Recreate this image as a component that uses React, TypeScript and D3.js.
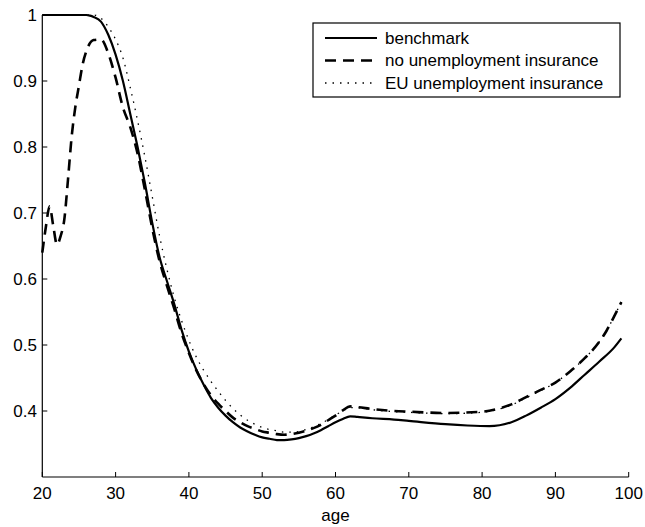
import * as d3 from 'd3';

// benchmark
const benchAge = [20, 22, 24, 26, 26.5, 27, 28, 29, 30, 31, 32, 33, 34, 35, 36, 37, 38, 39, 40, 41, 42, 43, 44, 45, 46, 47, 48, 49, 50, 51, 52, 53, 54, 55, 56, 57, 58, 59, 60, 61, 62, 63, 65, 68, 70, 75, 78, 81, 84, 86, 88, 90, 92, 94, 96, 98, 99];
const benchVal = [1, 1, 1, 1, 0.999, 0.997, 0.99, 0.97, 0.94, 0.9, 0.85, 0.8, 0.745, 0.685, 0.633, 0.597, 0.562, 0.523, 0.49, 0.463, 0.44, 0.42, 0.405, 0.393, 0.383, 0.375, 0.369, 0.364, 0.36, 0.358, 0.356, 0.356, 0.357, 0.359, 0.362, 0.366, 0.371, 0.377, 0.383, 0.388, 0.392, 0.391, 0.389, 0.387, 0.385, 0.38, 0.378, 0.377, 0.383, 0.393, 0.405, 0.418, 0.435, 0.455, 0.475, 0.496, 0.51];

// no unemployment insurance
const noUiAge = [20, 20.5, 21, 21.5, 22, 22.5, 23, 23.5, 24, 24.5, 25, 25.5, 26, 27, 28, 29, 30, 31, 32, 33, 34, 35, 36, 37, 38, 39, 40, 41, 42, 43, 44, 45, 46, 47, 48, 49, 50, 51, 52, 53, 54, 55, 56, 57, 58, 59, 60, 61, 62, 63, 65, 68, 70, 75, 80, 82, 84, 86, 88, 90, 92, 94, 96, 97, 98, 99];
const noUiVal = [0.64, 0.68, 0.71, 0.68, 0.652, 0.665, 0.69, 0.75, 0.815, 0.86, 0.893, 0.925, 0.945, 0.962, 0.963, 0.942, 0.905, 0.86, 0.83, 0.79, 0.735, 0.677, 0.627, 0.59, 0.555, 0.518, 0.488, 0.462, 0.441, 0.424, 0.411, 0.4, 0.39, 0.383, 0.377, 0.373, 0.369, 0.367, 0.365, 0.364, 0.365, 0.367, 0.37, 0.374, 0.379, 0.386, 0.393, 0.401, 0.407, 0.406, 0.403, 0.4, 0.399, 0.397, 0.399, 0.403, 0.41, 0.421, 0.432, 0.443, 0.46, 0.48, 0.505, 0.522, 0.543, 0.565];

// EU unemployment insurance
const euAge = [20, 27, 28, 29, 30, 31, 32, 33, 34, 35, 36, 37, 38, 39, 40, 41, 42, 43, 44, 45, 46, 47, 48, 49, 50, 51, 52, 53, 54, 55, 56, 57, 58, 59, 60, 61, 62, 63, 65, 68, 70, 75, 80, 82, 84, 86, 88, 90, 92, 94, 96, 97, 98, 99];
const euVal = [1, 1, 0.995, 0.982, 0.963, 0.935, 0.89, 0.84, 0.785, 0.725, 0.665, 0.615, 0.572, 0.537, 0.507, 0.482, 0.462, 0.445, 0.43, 0.416, 0.404, 0.394, 0.386, 0.38, 0.375, 0.372, 0.37, 0.368, 0.368, 0.369, 0.372, 0.376, 0.381, 0.387, 0.394, 0.4, 0.405, 0.405, 0.402, 0.399, 0.398, 0.396, 0.398, 0.402, 0.409, 0.42, 0.431, 0.443, 0.46, 0.48, 0.505, 0.522, 0.543, 0.565];

const xTicks = [20, 30, 40, 50, 60, 70, 80, 90, 100];
const yTicks = [0.4, 0.5, 0.6, 0.7, 0.8, 0.9, 1];
const legendLabels = ['benchmark', 'no unemployment insurance', 'EU unemployment insurance'];

const W = 645;
const H = 527;
const font = 'Liberation Sans, Arial, Helvetica, sans-serif';

const App = (): JSX.Element => {
  const x = d3.scaleLinear([20, 100], [42.3, 628.7]);
  const y = d3.scaleLinear([0.3, 1], [477, 15]);

  const pts = (ages: number[], vals: number[]): [number, number][] => ages.map((a, i) => [a, vals[i]]);
  const line = d3
    .line<[number, number]>()
    .x((d) => x(d[0]))
    .y((d) => y(d[1]))
    .curve(d3.curveMonotoneX);

  const series = [
    { d: line(pts(benchAge, benchVal)), width: 2.2, dash: 'none' },
    { d: line(pts(noUiAge, noUiVal)), width: 2.6, dash: '11,7' },
    { d: line(pts(euAge, euVal)), width: 1.3, dash: '1.5,6' }
  ];

  const x0 = x.range()[0];
  const y0 = y.range()[0];

  return (
    <svg width={W} height={H} style={{ position: 'absolute', left: 0, top: 0, background: '#fff' }}>
      {series.map((s, i) => (
        <path key={i} d={s.d ?? ''} fill="none" stroke="#000" strokeWidth={s.width} strokeDasharray={s.dash} strokeLinejoin="round" />
      ))}

      {/* axes */}
      <line x1={x0} x2={x.range()[1]} y1={y0} y2={y0} stroke="#000" strokeWidth={1.2} />
      <line x1={x0} x2={x0} y1={y0} y2={y(1)} stroke="#000" strokeWidth={1.2} />
      {xTicks.map((t) => (
        <g key={t}>
          <line x1={x(t)} x2={x(t)} y1={y0} y2={y0 - 5} stroke="#000" />
          <text x={x(t)} y={499} textAnchor="middle" fontFamily={font} fontSize={17}>
            {t}
          </text>
        </g>
      ))}
      {yTicks.map((t) => (
        <g key={t}>
          <line x1={x0} x2={x0 + 5} y1={y(t)} y2={y(t)} stroke="#000" />
          <text x={37} y={y(t)} dy="0.35em" textAnchor="end" fontFamily={font} fontSize={17}>
            {t}
          </text>
        </g>
      ))}
      <text x={(x0 + x.range()[1]) / 2} y={521} textAnchor="middle" fontFamily={font} fontSize={17}>
        age
      </text>

      {/* legend */}
      <rect x={313} y={23} width={307} height={74} fill="#fff" stroke="#000" strokeWidth={1.2} />
      {legendLabels.map((l, i) => (
        <g key={l}>
          <line
            x1={325}
            x2={377}
            y1={38 + i * 22.5}
            y2={38 + i * 22.5}
            stroke="#000"
            strokeWidth={series[i].width}
            strokeDasharray={series[i].dash}
          />
          <text x={385} y={38 + i * 22.5} dy="0.35em" fontFamily={font} fontSize={17}>
            {l}
          </text>
        </g>
      ))}
    </svg>
  );
};

export default App;
